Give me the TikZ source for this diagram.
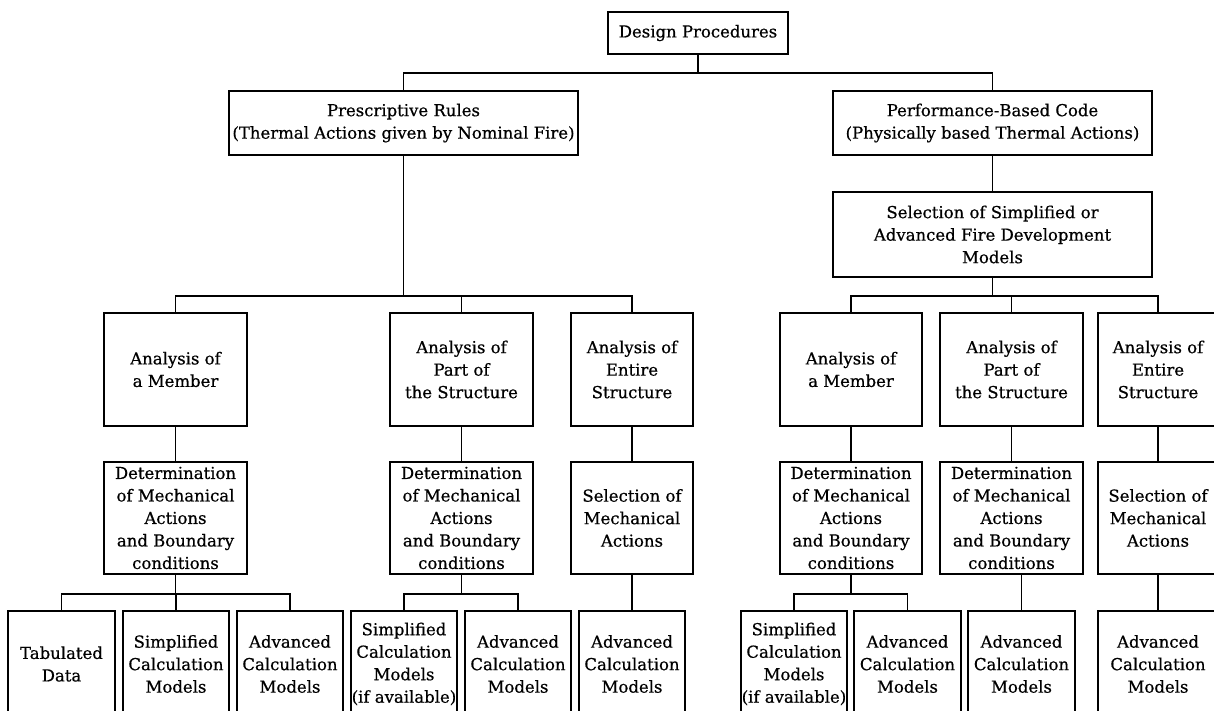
\documentclass[tikz,border=0pt]{standalone}
\usepackage{fontspec}
\setmainfont[FakeBold=0.6]{DejaVu Serif}
\tikzset{
  box/.style={draw, line width=1.8pt, align=center, inner sep=0pt, font=\fontsize{16.5}{22.5}\selectfont},
  anbox/.style={box, minimum height=113},
  detbox/.style={box, minimum height=112},
  calcbox/.style={box, minimum width=106, minimum height=106},
  link/.style={line width=1.8pt},
}

\begin{document}
\begin{tikzpicture}[x=1pt,y=-1pt]
    \clip (0,0) rectangle (1214,711);

    % Top level
    \node[box, minimum width=180, minimum height=42] (design) at (698,33) {Design Procedures};
    \node[box, minimum width=349, minimum height=64] (presc) at (403.5,123) {Prescriptive Rules\\(Thermal Actions given by Nominal Fire)};
    \node[box, minimum width=319, minimum height=64] (perf) at (992.5,123) {Performance-Based Code\\(Physically based Thermal Actions)};
    \node[box, minimum width=319, minimum height=85] (fire) at (992.5,234.5) {Selection of Simplified or\\Advanced Fire Development\\Models};

    % Kind of analysis
    \node[anbox, minimum width=143] (mem1) at (175.5,369.5) {Analysis of\\a Member};
    \node[anbox, minimum width=143] (part1) at (461.5,369.5) {Analysis of\\Part of\\the Structure};
    \node[anbox, minimum width=122] (ent1) at (632,369.5) {Analysis of\\Entire\\Structure};
    \node[anbox, minimum width=142] (mem2) at (851,369.5) {Analysis of\\a Member};
    \node[anbox, minimum width=143] (part2) at (1011.5,369.5) {Analysis of\\Part of\\the Structure};
    \node[anbox, minimum width=120] (ent2) at (1158,369.5) {Analysis of\\Entire\\Structure};

    % Mechanical actions
    \node[detbox, minimum width=143] (dmem1) at (175.5,518) {Determination\\of Mechanical\\Actions\\and Boundary\\conditions};
    \node[detbox, minimum width=143] (dpart1) at (461.5,518) {Determination\\of Mechanical\\Actions\\and Boundary\\conditions};
    \node[detbox, minimum width=122] (sment1) at (632,518) {Selection of\\Mechanical\\Actions};
    \node[detbox, minimum width=142] (dmem2) at (851,518) {Determination\\of Mechanical\\Actions\\and Boundary\\conditions};
    \node[detbox, minimum width=143] (dpart2) at (1011.5,518) {Determination\\of Mechanical\\Actions\\and Boundary\\conditions};
    \node[detbox, minimum width=120] (sment2) at (1158,518) {Selection of\\Mechanical\\Actions};

    % Calculation models
    \node[calcbox, minimum width=107] (tab) at (61.5,664) {Tabulated\\Data};
    \node[calcbox] (simp1) at (176,664) {Simplified\\Calculation\\Models};
    \node[calcbox] (adv1) at (290,664) {Advanced\\Calculation\\Models};
    \node[calcbox] (simp2) at (404,664) {Simplified\\Calculation\\Models\\(if available)};
    \node[calcbox] (adv2) at (518,664) {Advanced\\Calculation\\Models};
    \node[calcbox] (adv3) at (632,664) {Advanced\\Calculation\\Models};
    \node[calcbox] (simp3) at (794,664) {Simplified\\Calculation\\Models\\(if available)};
    \node[calcbox, minimum width=107] (adv4) at (907.5,664) {Advanced\\Calculation\\Models};
    \node[calcbox, minimum width=107] (adv5) at (1021.5,664) {Advanced\\Calculation\\Models};
    \node[calcbox, minimum width=120] (adv6) at (1158,664) {Advanced\\Calculation\\Models};

    % Top branches
    \draw[link] (design.south) -- ++(0,18) -| (presc.north);
    \draw[link] (design.south) -- ++(0,18) -| (perf.north);
    \draw[link] (perf.south) -- (fire.north);

    % Analysis branches
    \foreach \n in {mem1,part1,ent1}
        \draw[link] (presc.south) -- ++(0,140) -| (\n.north);
    \foreach \n in {mem2,part2,ent2}
        \draw[link] (fire.south) -- ++(0,18) -| (\n.north);

    % Down the columns
    \foreach \a/\b in {mem1/dmem1,part1/dpart1,ent1/sment1,mem2/dmem2,part2/dpart2,ent2/sment2}
        \draw[link] (\a.south) -- (\b.north);

    % Calculation branches
    \foreach \n in {tab,simp1,adv1}
        \draw[link] (dmem1.south) -- ++(0,19) -| (\n.north);
    \foreach \n in {simp2,adv2}
        \draw[link] (dpart1.south) -- ++(0,19) -| (\n.north);
    \foreach \n in {simp3,adv4}
        \draw[link] (dmem2.south) -- ++(0,19) -| (\n.north);
    \draw[link] (sment1.south) -- (adv3.north);
    \draw[link] (adv5.north |- dpart2.south) -- (adv5.north);
    \draw[link] (sment2.south) -- (adv6.north);
\end{tikzpicture}
\end{document}
